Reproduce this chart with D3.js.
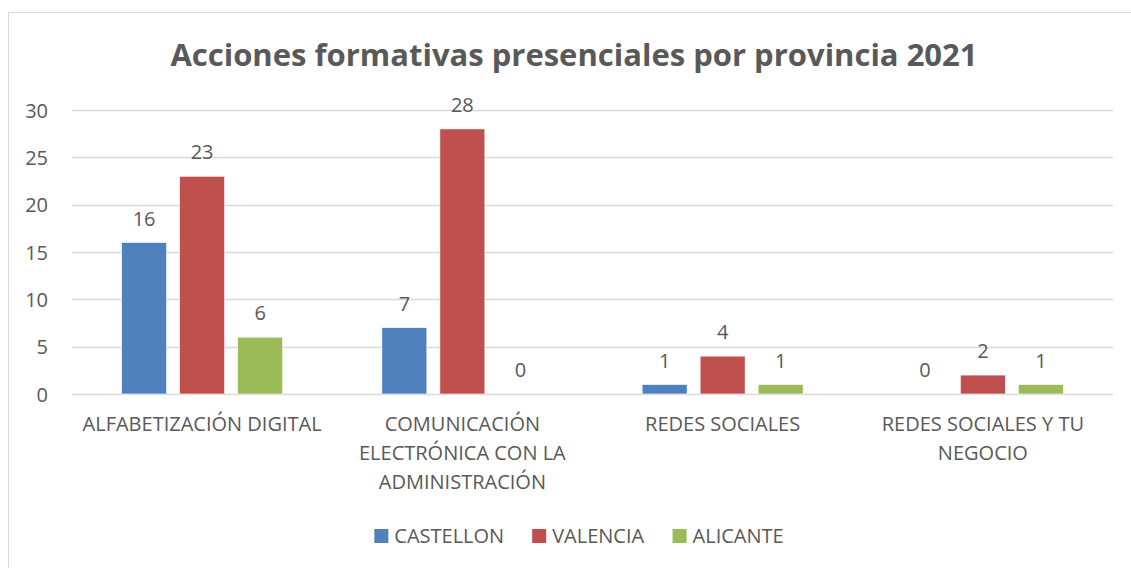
<!DOCTYPE html>
<html>
<head>
<meta charset="utf-8">
<script src="https://cdn.jsdelivr.net/npm/d3@7"></script>
<style>
  body { margin: 0; background: #fff; }
  text { font-family: "Open Sans", Lato, sans-serif; fill: #595959; }
</style>
</head>
<body>
<script>
// chart data
var title = "Acciones formativas presenciales por provincia 2021";
var categories = ["ALFABETIZACIÓN DIGITAL", "COMUNICACIÓN ELECTRÓNICA CON LA ADMINISTRACIÓN", "REDES SOCIALES", "REDES SOCIALES Y TU NEGOCIO"];
var seriesNames = ["CASTELLON", "VALENCIA", "ALICANTE"];
var castellon = [16, 7, 1, 0];
var valencia = [23, 28, 4, 2];
var alicante = [6, 0, 1, 1];
var yTicks = [0, 5, 10, 15, 20, 25, 30];
var colors = ["#4F81BD", "#C0504D", "#9BBB59"];

var width = 1131, height = 568;
var plotLeft = 72, plotRight = 1113, plotTop = 110, plotBottom = 394;
var labelSize = "20px";

var svg = d3.select("body").append("svg")
    .attr("width", width)
    .attr("height", height);

// outer frame of the chart (runs off the right / bottom edge)
svg.append("rect")
    .attr("x", 8.5).attr("y", 12.5)
    .attr("width", 1140).attr("height", 600)
    .attr("fill", "#fff")
    .attr("stroke", "#D9D9D9")
    .attr("stroke-width", 1);

var x0 = d3.scaleBand()
    .domain(categories)
    .range([plotLeft, plotRight]);

var groupW = 161; // width of the three bars of a group
var x1 = d3.scaleBand()
    .domain(seriesNames)
    .range([0, groupW])
    .paddingInner(0.225);

var y = d3.scaleLinear()
    .domain([0, 30])
    .range([plotBottom, plotTop]);

// title
svg.append("text")
    .attr("x", 574)
    .attr("y", 66)
    .attr("text-anchor", "middle")
    .style("font-size", "31px")
    .style("font-weight", "bold")
    .text(title);

// gridlines
svg.append("g").selectAll("line")
    .data(yTicks)
    .enter().append("line")
    .attr("x1", plotLeft).attr("x2", plotRight)
    .attr("y1", function (d) { return Math.round(y(d)) + 0.5; })
    .attr("y2", function (d) { return Math.round(y(d)) + 0.5; })
    .attr("stroke", "#D9D9D9")
    .attr("stroke-width", 1.5);

// y axis labels
var yAxis = d3.axisLeft(y).tickValues(yTicks).tickSize(0).tickPadding(0);
var yg = svg.append("g")
    .attr("transform", "translate(" + 48 + ",0)")
    .call(yAxis);
yg.select(".domain").remove();
yg.selectAll("text")
    .style("font-size", labelSize)
    .attr("fill", "#595959")
    .attr("font-family", null)
    .attr("dy", "0.35em");

// bars
var data = categories.map(function (c, i) {
    return { cat: c, values: [castellon[i], valencia[i], alicante[i]] };
});

var groups = svg.append("g").selectAll("g")
    .data(data)
    .enter().append("g")
    .attr("transform", function (d) {
        return "translate(" + (x0(d.cat) + (x0.bandwidth() - groupW) / 2) + ",0)";
    });

groups.selectAll("rect")
    .data(function (d) { return d.values.map(function (v, j) { return { s: seriesNames[j], v: v, j: j }; }); })
    .enter().append("rect")
    .attr("x", function (d) { return x1(d.s); })
    .attr("y", function (d) { return y(d.v); })
    .attr("width", x1.bandwidth())
    .attr("height", function (d) { return y(0) - y(d.v); })
    .attr("fill", function (d) { return colors[d.j]; })
    .attr("stroke", "#fff")
    .attr("stroke-width", 0.6);

// value labels
groups.selectAll("text.val")
    .data(function (d) { return d.values.map(function (v, j) { return { s: seriesNames[j], v: v }; }); })
    .enter().append("text")
    .attr("class", "val")
    .attr("x", function (d) { return x1(d.s) + x1.bandwidth() / 2; })
    .attr("y", function (d) { return y(d.v) - 17; })
    .attr("text-anchor", "middle")
    .style("font-size", labelSize)
    .text(function (d) { return d.v; });

// category labels, wrapped like the original
var catG = svg.append("g").selectAll("text")
    .data(categories)
    .enter().append("text")
    .attr("x", function (d) { return x0(d) + x0.bandwidth() / 2; })
    .attr("y", 431)
    .attr("text-anchor", "middle")
    .style("font-size", labelSize);

catG.each(function (d) {
    var el = d3.select(this);
    var words = d.split(" "), lines = [], line = [];
    var probe = el.append("tspan");
    words.forEach(function (w) {
        line.push(w);
        probe.text(line.join(" "));
        if (probe.node().getComputedTextLength() > 258 && line.length > 1) {
            line.pop();
            lines.push(line.join(" "));
            line = [w];
        }
    });
    lines.push(line.join(" "));
    probe.remove();
    lines.forEach(function (l, i) {
        el.append("tspan")
            .attr("x", el.attr("x"))
            .attr("dy", i === 0 ? 0 : 29)
            .text(l);
    });
});

// legend
var legend = svg.append("g");
var items = legend.selectAll("g")
    .data(seriesNames)
    .enter().append("g");
items.append("rect")
    .attr("width", 14).attr("height", 14)
    .attr("y", -14)
    .attr("fill", function (d, i) { return colors[i]; });
items.append("text")
    .attr("x", 20)
    .attr("y", 0)
    .style("font-size", labelSize)
    .text(function (d) { return d; });

var xpos = 0;
items.each(function () {
    var w = this.getBBox().width;
    d3.select(this).attr("transform", "translate(" + xpos + ",0)");
    xpos += w + 28;
});
var legendW = xpos - 28;
legend.attr("transform", "translate(" + (579 - legendW / 2) + ",543)");
</script>
</body>
</html>
